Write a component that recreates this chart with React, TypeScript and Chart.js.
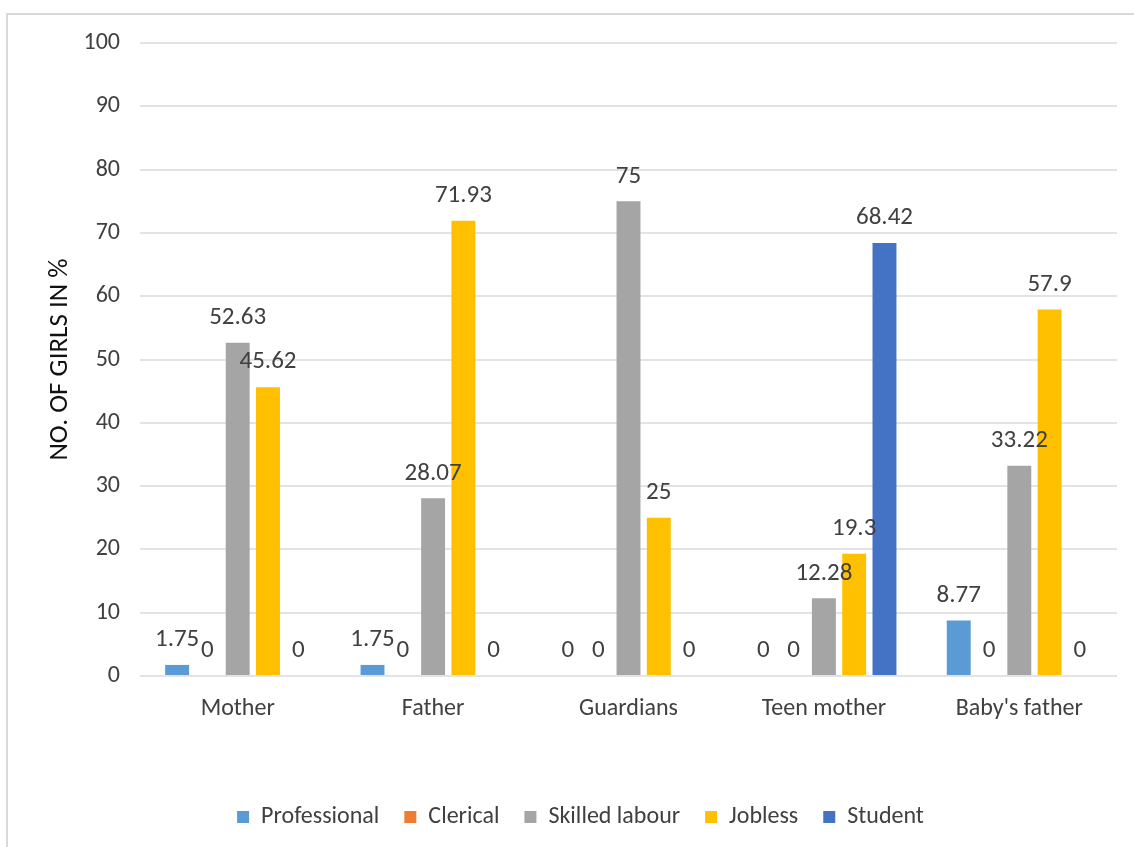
import React, { useEffect, useRef } from "react";
import { Chart, registerables } from "chart.js";

Chart.register(...registerables);

const categories = ["Mother", "Father", "Guardians", "Teen mother", "Baby's father"];
const seriesNames = ["Professional", "Clerical", "Skilled labour", "Jobless", "Student"];
const professional = [1.75, 1.75, 0, 0, 8.77];
const clerical = [0, 0, 0, 0, 0];
const skilledLabour = [52.63, 28.07, 75, 12.28, 33.22];
const jobless = [45.62, 71.93, 25, 19.3, 57.9];
const student = [0, 0, 0, 68.42, 0];
const colors = ["#5B9BD5", "#ED7D31", "#A5A5A5", "#FFC000", "#4472C4"];
const yTitle = "NO. OF GIRLS IN %";

const FONT = "Carlito, Lato, 'Open Sans', sans-serif";

const valueLabels = {
  id: "valueLabels",
  afterDatasetsDraw(chart: any) {
    const ctx = chart.ctx;
    ctx.save();
    ctx.font = `25px ${FONT}`;
    ctx.fillStyle = "#404040";
    ctx.textAlign = "center";
    ctx.textBaseline = "middle";
    chart.data.datasets.forEach((ds: any, i: number) => {
      const meta = chart.getDatasetMeta(i);
      meta.data.forEach((bar: any, j: number) => {
        const v = ds.data[j];
        ctx.fillText(String(v), bar.x, bar.y - 25);
      });
    });
    ctx.restore();
  },
};

export default function App() {
  const ref = useRef<HTMLCanvasElement>(null);
  useEffect(() => {
    const seriesData = [professional, clerical, skilledLabour, jobless, student];
    const chart = new Chart(ref.current!, {
      type: "bar",
      data: {
        labels: categories,
        datasets: seriesNames.map((name, i) => ({
          label: name,
          data: seriesData[i],
          backgroundColor: colors[i],
          borderWidth: 0,
          categoryPercentage: 0.775,
          barPercentage: 0.79,
        })),
      },
      options: {
        animation: false,
        responsive: false,
        layout: { padding: { left: 44, right: 17, top: 43, bottom: 8 } },
        scales: {
          x: {
            grid: { display: false, drawTicks: false },
            border: { display: false },
            ticks: { color: "#404040", font: { family: FONT, size: 24 }, padding: 19 },
            afterFit: (s: any) => { s.height = 104; },
          },
          y: {
            min: 0,
            max: 100,
            ticks: { stepSize: 10, color: "#404040", font: { family: FONT, size: 24 }, padding: 20 },
            grid: { color: "#e3e3e3", lineWidth: 2, drawTicks: false },
            border: { display: false },
            title: { display: true, text: yTitle, color: "#111111", font: { family: FONT, size: 27 }, padding: 0 },
            afterFit: (s: any) => { s.width = 96; },
          },
        },
        plugins: {
          legend: {
            position: "bottom",
            labels: {
              color: "#404040",
              font: { family: FONT, size: 24 },
              boxWidth: 12,
              boxHeight: 12,
              padding: 25,
            },
          },
          tooltip: { enabled: false },
        },
      },
      plugins: [valueLabels],
    });
    return () => chart.destroy();
  }, []);
  return (
    <div style={{ position: "fixed", left: 0, top: 0, width: 1134, height: 847, overflow: "hidden", background: "#fff" }}>
      <div style={{ position: "absolute", left: 6, top: 13, width: 1300, height: 1000, border: "2px solid #d9d9d9" }} />
      <canvas ref={ref} width={1134} height={847} style={{ position: "absolute", left: 0, top: 0 }} />
    </div>
  );
}
